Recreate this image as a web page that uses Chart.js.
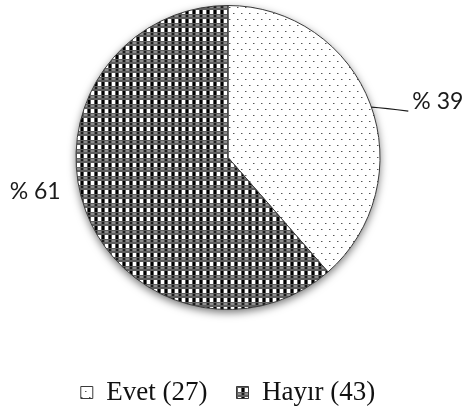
<!DOCTYPE html>
<html>
<head>
<meta charset="utf-8">
<script src="https://cdn.jsdelivr.net/npm/chart.js@4/dist/chart.umd.min.js"></script>
<style>
  html, body { margin: 0; padding: 0; background: #ffffff; }
  canvas { display: block; }
</style>
</head>
<body>
<canvas id="pie" width="466" height="413"></canvas>
<script>
// Answer categories and respondent counts
const categories = ['Evet', 'Hayır'];
const counts = [27, 43];

// Build a repeating fill from a small tile
function makePattern(w, h, paint) {
  const tile = document.createElement('canvas');
  tile.width = w;
  tile.height = h;
  const t = tile.getContext('2d');
  paint(t);
  return t.createPattern(tile, 'repeat');
}

// Sparse dotted fill for "Evet"
const dotFill = makePattern(8, 12, t => {
  t.fillStyle = '#ffffff';
  t.fillRect(0, 0, 8, 12);
  t.fillStyle = '#555555';
  t.fillRect(1, 1, 1, 1);
  t.fillRect(5, 7, 1, 1);
  t.fillStyle = '#b0b0b0';
  t.fillRect(2, 1, 1, 1);
  t.fillRect(6, 7, 1, 1);
});

// Dense woven check fill for "Hayır"
const checkFill = makePattern(7, 9, t => {
  t.fillStyle = '#5e5e5e';
  t.fillRect(0, 0, 7, 9);
  t.fillStyle = '#ffffff';
  t.fillRect(0, 1, 3, 4);
  t.fillStyle = '#000000';
  t.fillRect(4, 1, 2, 4);
  t.fillStyle = '#8e8e8e';
  t.fillRect(0, 6, 3, 2);
  t.fillStyle = '#1c1c1c';
  t.fillRect(4, 6, 2, 2);
});

const total = counts.reduce((a, b) => a + b, 0);

// Soft shadow under the whole disc
const discShadow = {
  id: 'discShadow',
  beforeDatasetsDraw(chart) {
    const arc = chart.getDatasetMeta(0).data[0];
    if (!arc) return;
    const { x, y, outerRadius } = arc.getProps(['x', 'y', 'outerRadius'], true);
    const ctx = chart.ctx;
    ctx.save();
    ctx.shadowColor = 'rgba(0,0,0,0.55)';
    ctx.shadowBlur = 8;
    ctx.shadowOffsetY = 3;
    ctx.fillStyle = '#ffffff';
    ctx.beginPath();
    ctx.arc(x, y, outerRadius, 0, Math.PI * 2);
    ctx.fill();
    ctx.restore();
  }
};

// Percentage labels beside each slice
const sliceLabels = {
  id: 'sliceLabels',
  afterDatasetsDraw(chart) {
    const ctx = chart.ctx;
    const meta = chart.getDatasetMeta(0);
    ctx.save();
    ctx.font = '23px Lato';
    ctx.fillStyle = '#1a1a1a';
    ctx.strokeStyle = '#1a1a1a';
    ctx.lineWidth = 1.4;
    ctx.textBaseline = 'middle';
    meta.data.forEach((arc, i) => {
      const { x, y, startAngle, endAngle, outerRadius } =
        arc.getProps(['x', 'y', 'startAngle', 'endAngle', 'outerRadius'], true);
      const mid = (startAngle + endAngle) / 2;
      const ex = x + Math.cos(mid) * outerRadius;
      const ey = y + Math.sin(mid) * outerRadius;
      const text = '% ' + Math.round(counts[i] / total * 100);
      if (Math.cos(mid) >= 0) {
        // leader line out to the right
        const sx = ex + 1, sy = ey + 3;
        const lx = ex + 38, ly = ey + 7;
        ctx.beginPath();
        ctx.moveTo(sx, sy);
        ctx.quadraticCurveTo(sx + 14, sy + 1, lx, ly);
        ctx.stroke();
        ctx.textAlign = 'left';
        ctx.fillText(text, lx + 4, ey - 3);
      } else {
        ctx.textAlign = 'right';
        ctx.fillText(text, ex - 25, ey - 19);
      }
    });
    ctx.restore();
  }
};

new Chart(document.getElementById('pie'), {
  type: 'pie',
  data: {
    labels: categories,
    datasets: [{
      data: counts,
      backgroundColor: [dotFill, checkFill],
      borderColor: '#3a3a3a',
      borderWidth: 1,
      radius: 152
    }]
  },
  options: {
    responsive: false,
    animation: false,
    layout: { padding: { top: 0, right: 10, bottom: 0, left: 0 } },
    plugins: {
      tooltip: { enabled: false },
      legend: {
        position: 'bottom',
        maxHeight: 98,
        title: {
          display: true,
          text: ' ',
          font: { size: 12 },
          padding: { top: 0, bottom: 20.6 }
        },
        labels: {
          font: { family: 'Liberation Serif', size: 27 },
          color: '#111111',
          boxWidth: 12,
          boxHeight: 12,
          padding: 29,
          generateLabels(chart) {
            const items = Chart.controllers.pie.overrides.plugins.legend.labels.generateLabels(chart);
            return items.map((it, i) => ({ ...it, text: categories[i] + ' (' + counts[i] + ')' }));
          }
        }
      }
    }
  },
  plugins: [discShadow, sliceLabels]
});
</script>
</body>
</html>
